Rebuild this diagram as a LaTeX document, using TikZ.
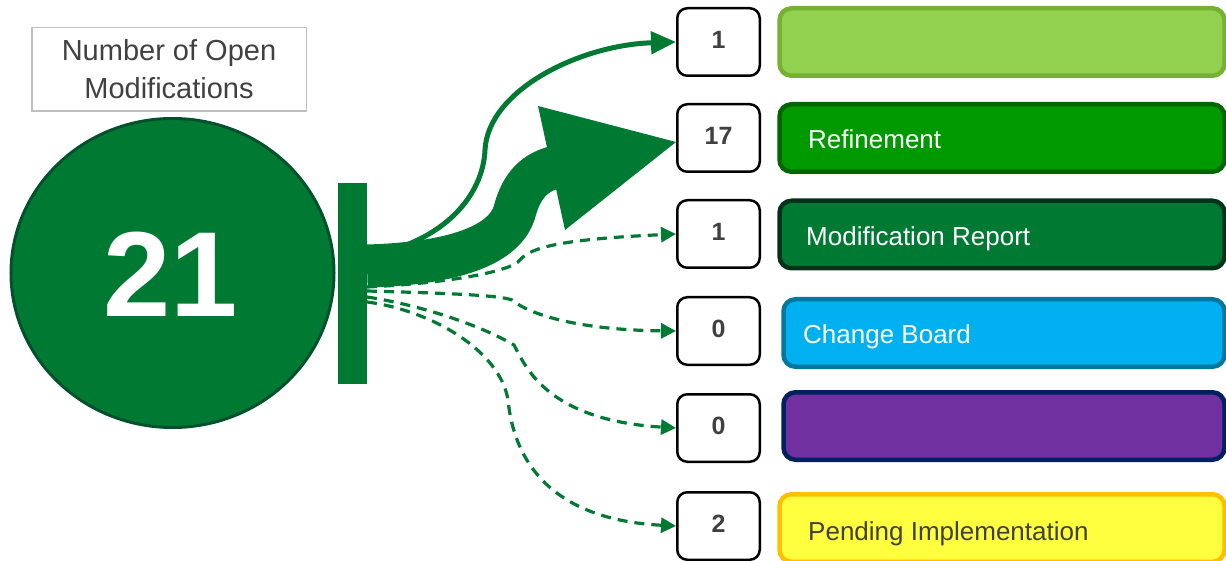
\documentclass[tikz,border=0pt]{standalone}
\usepackage{fontspec}
\setmainfont{Liberation Sans}
\usetikzlibrary{arrows.meta,shapes.geometric,calc}
\definecolor{mgreen}{HTML}{007A33}
\definecolor{dgreen}{HTML}{00512C}
\definecolor{txtgray}{HTML}{404040}
\definecolor{lgray}{HTML}{BFBFBF}
\definecolor{fillA}{HTML}{92D050}\definecolor{lineA}{HTML}{77B131}
\definecolor{fillB}{HTML}{009900}\definecolor{lineB}{HTML}{006600}
\definecolor{fillC}{HTML}{007A33}\definecolor{lineC}{HTML}{00331A}
\definecolor{fillD}{HTML}{00B0F0}\definecolor{lineD}{HTML}{00779E}
\definecolor{fillE}{HTML}{7030A0}\definecolor{lineE}{HTML}{002060}
\definecolor{fillF}{HTML}{FFFF40}\definecolor{lineF}{HTML}{FFC000}
\begin{document}
\begin{tikzpicture}[x=1pt,y=-1pt,
  cbox/.style={draw=black, line width=2.5pt, rounded corners=10pt, fill=white,
    minimum width=82.5pt, minimum height=67.5pt, inner sep=0pt, text=txtgray,
    font=\fontsize{25}{30}\selectfont\bfseries},
  statebar/.style={rounded corners=12pt, line width=4.5pt, minimum width=445pt,
    minimum height=67.5pt, inner sep=0pt},
  bartext/.style={anchor=base west, inner sep=0pt, font=\fontsize{26}{31}\selectfont, text=white},
  dasharrow/.style={draw=mgreen, line width=3.2pt, dash pattern=on 10pt off 7pt,
    -{Triangle[length=15pt,width=15pt]}},
]
\useasboundingbox (0,0) rectangle (1226,561);

% label box
\node[draw=lgray, line width=1.5pt, minimum width=274.5pt, minimum height=83.5pt,
  align=center, font=\fontsize{29}{38}\selectfont, text=txtgray, inner sep=0pt]
  (lbl) at (169,69.5) {Number of Open\\Modifications};

% count boxes
\node[cbox] (c1) at (718.5,42)  {\raisebox{4pt}{1}};
\node[cbox] (c2) at (718.5,138) {\raisebox{4pt}{17}};
\node[cbox] (c3) at (718.5,234) {\raisebox{4pt}{1}};
\node[cbox] (c4) at (718.5,331) {\raisebox{4pt}{0}};
\node[cbox] (c5) at (718.5,428) {\raisebox{4pt}{0}};
\node[cbox] (c6) at (718.5,526) {\raisebox{4pt}{2}};

% state bars
\node[statebar, fill=fillA, draw=lineA] (b1) at (1002,42) {};
\node[statebar, fill=fillB, draw=lineB] (b2) at (1002,138) {};
\node[statebar, fill=fillC, draw=lineC] (b3) at (1002,234.5) {};
\node[statebar, fill=fillD, draw=lineD, minimum width=441pt] (b4) at (1004,333) {};
\node[statebar, fill=fillE, draw=lineE, minimum width=441pt] (b5) at (1004,426) {};
\node[statebar, fill=fillF, draw=lineF] (b6) at (1002,528) {};

\node[bartext] (t2) at (808,149) {Refinement};
\node[bartext] (t3) at (806,245.5) {Modification Report};
\node[bartext] (t4) at (803,343) {Change Board};
\node[bartext, text=txtgray] (t6) at (808,540) {Pending Implementation};

% start points on the bar
\coordinate (s0) at (367,256);
\coordinate (s1) at (367,287);
\coordinate (s2) at (367,291);
\coordinate (s3) at (367,297);
\coordinate (s4) at (367,302);
\coordinate (sb) at (367,266);
\coordinate (hb) at (556,167);

% dashed connectors
\draw[dasharrow] (s1) .. controls (450,283) and (505,272) .. (518,262)
  .. controls (528,250) and (545,240) .. (c3.west);
\draw[dasharrow] (s2) .. controls (440,293) and (500,295) .. (512,300)
  .. controls (530,315) and (580,330) .. (c4.west);
\draw[dasharrow] (s3) .. controls (420,305) and (480,325) .. (514,345)
  .. controls (525,365) and (545,420) .. (c5.west);
\draw[dasharrow] (s4) .. controls (430,310) and (500,350) .. (508,400)
  .. controls (515,470) and (560,520) .. (c6.west);

% thin solid arrow
\draw[mgreen, line width=5pt, -{Triangle[length=25pt,width=22pt]}]
  (s0) .. controls (445,242) and (483,195) .. (485,150)
  .. controls (488,90) and (580,45) .. (c1.west);

% thick arrow
\draw[mgreen, line width=43pt] (sb) .. controls (440,264) and (505,250) .. (515,210)
  .. controls (522,185) and (535,172) .. (hb);
\fill[mgreen] (538,106) -- ($(c2.west)+(0,4)$) -- (565,230) -- cycle;

% vertical bar
\node[fill=mgreen, inner sep=0pt, minimum width=29pt, minimum height=201pt] (vbar) at (352.5,283.5) {};

% circle
\node[ellipse, draw=dgreen, fill=mgreen, line width=3pt, minimum width=323pt,
  minimum height=309pt, inner sep=0pt] (circ) at (172.5,273) {};
\node[font=\fontsize{121}{121}\selectfont\bfseries, text=white, inner sep=0pt] (num) at (171,274) {21};
\end{tikzpicture}
\end{document}
